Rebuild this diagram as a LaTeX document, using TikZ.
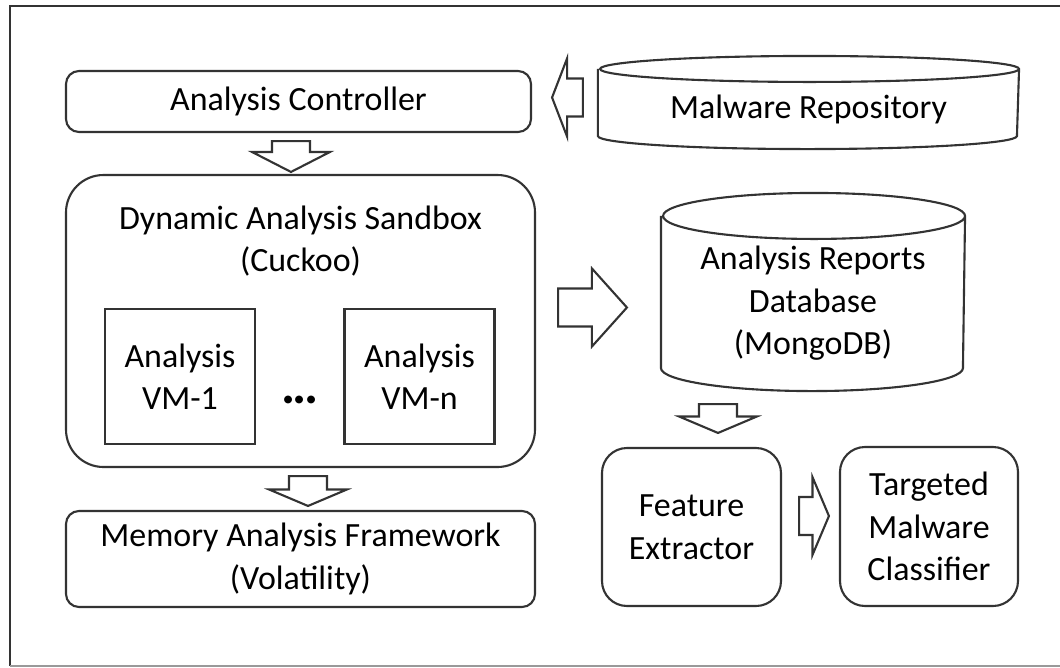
\documentclass[tikz,border=0pt]{standalone}
\usepackage{fontspec}
\setmainfont{Carlito}
\usepackage{tikz}
\usetikzlibrary{
    calc,
    positioning
}

\begin{document}
\begin{tikzpicture}[
            x=0.2mm, y=-0.2mm,
            line width=1.2pt, draw=black!80,
            font=\fontsize{19.3}{24.2}\selectfont,
            box/.style={draw, rounded corners=2.6mm, align=center, inner sep=0pt},
            vm box/.style={draw, align=center, inner sep=0pt, minimum width=30mm, minimum height=27mm},
            drum/.style={align=center, inner sep=0pt},
            hollow/.style={to path={
                let \p1=($(\tikztotarget)!#1!(\tikztostart)$) in
                ($(\tikztostart)!3.8mm!90:(\tikztotarget)$)
                -- ($(\p1)!3.8mm!90:(\tikztotarget)$)
                -- ($(\p1)!7.8mm!90:(\tikztotarget)$)
                -- (\tikztotarget)
                -- ($(\p1)!7.8mm!-90:(\tikztotarget)$)
                -- ($(\p1)!3.8mm!-90:(\tikztotarget)$)
                -- ($(\tikztostart)!3.8mm!-90:(\tikztotarget)$)
                -- cycle}},
            hollow/.default=3.3mm
        ]
        \useasboundingbox (0,0) rectangle (1060,667);
        % frame
        \draw[line width=1.5pt] (1060,6) -- (10,6) -- (10,666);
        \draw[line width=0.8pt, black!40] (10,666) -- (1060,666);

        \node[box, minimum width=93mm, minimum height=12.2mm] (ctrl) at (298.5,101.5) {Analysis Controller};
        \node[drum, minimum width=83.8mm, minimum height=15.6mm] (repo) at (808.5,109) {Malware Repository};
        \draw (repo.north west) -- ([yshift=2.6mm]repo.south west)
            arc[start angle=180, end angle=360, x radius=41.9mm, y radius=2.6mm]
            -- (repo.north east) arc[start angle=0, end angle=360, x radius=41.9mm, y radius=2.6mm];

        \node[box, rounded corners=7.5mm, minimum width=93.8mm, minimum height=58.4mm] (sandbox) at (300.5,321) {};
        \node[align=center] (cuckoo) at (300.5,241) {Dynamic Analysis Sandbox\\(Cuckoo)};
        \node[vm box] (vm1) at (180,376.5) {Analysis\\VM-1};
        \node[vm box] (vmn) at (419.5,376.5) {Analysis\\VM-n};
        \node[font=\fontsize{30}{30}\selectfont\bfseries] (dots) at (300,400) {.\kern-1.5pt.\kern-1.5pt.};

        \node[box, minimum width=93.8mm, minimum height=19.2mm] (mem) at (300.5,559) {Memory Analysis Framework\\(Volatility)};

        \node[drum, minimum width=60.4mm, minimum height=34.6mm] (db) at (813,303.5) {Analysis Reports\\Database\\(MongoDB)};
        \draw (db.north west) -- ([yshift=4.6mm]db.south west)
            arc[start angle=180, end angle=360, x radius=30.2mm, y radius=4.6mm]
            -- (db.north east) arc[start angle=0, end angle=360, x radius=30.2mm, y radius=4.6mm];

        \node[box, rounded corners=5mm, minimum width=35.8mm, minimum height=31.6mm] (fe) at (691.5,527) {Feature\\Extractor};
        \node[box, rounded corners=5mm, minimum width=35.6mm, minimum height=31.8mm] (cls) at (929,526.5) {Targeted\\Malware\\Classifier};

        \draw[hollow=3mm] ([xshift=-3mm, yshift=2.3mm]repo.west) to ([xshift=4mm, yshift=0.8mm]ctrl.east);
        \draw[hollow=4mm] ([xshift=-1.5mm, yshift=-1.6mm]ctrl.south) to ([xshift=-1.9mm, yshift=0.4mm]sandbox.north);
        \draw[hollow=7mm] ([xshift=4.4mm, yshift=2.7mm]sandbox.east) to ([xshift=-6.8mm, yshift=-0.8mm]db.west);
        \draw[hollow] ([xshift=1.5mm, yshift=-1.6mm]sandbox.south) to ([xshift=1.5mm, yshift=0.8mm]mem.north);
        \draw[hollow] ([xshift=-19mm, yshift=-2.6mm]db.south) to ([xshift=5.3mm, yshift=2.8mm]fe.north);
        \draw[hollow] ([xshift=3.4mm, yshift=2.2mm]fe.east) to ([xshift=-2mm, yshift=2.1mm]cls.west);
    \end{tikzpicture}
\end{document}
